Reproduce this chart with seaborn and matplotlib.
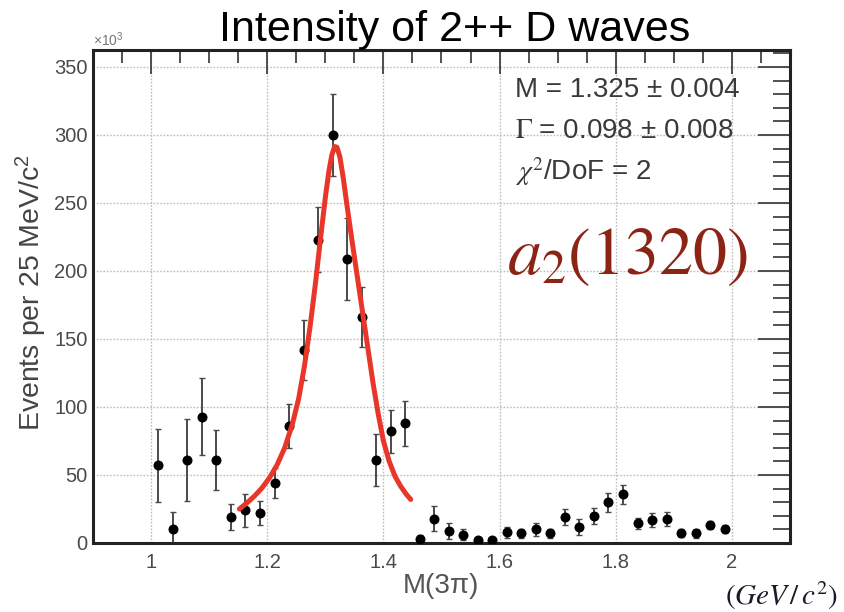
import matplotlib
matplotlib.use("Agg")
import matplotlib.pyplot as plt
from matplotlib.ticker import MultipleLocator
import seaborn as sns
import pandas as pd

# ---- data ----
mass = [1.0125, 1.0375, 1.0625, 1.0875, 1.1125, 1.1375, 1.1625, 1.1875, 1.2125, 1.2375,
        1.2625, 1.2875, 1.3125, 1.3375, 1.3625, 1.3875, 1.4125, 1.4375, 1.4625, 1.4875,
        1.5125, 1.5375, 1.5625, 1.5875, 1.6125, 1.6375, 1.6625, 1.6875, 1.7125, 1.7375,
        1.7625, 1.7875, 1.8125, 1.8375, 1.8625, 1.8875, 1.9125, 1.9375, 1.9625, 1.9875]
events = [57, 10, 61, 93, 61, 19, 24, 22, 44, 86,
          142, 223, 300, 209, 166, 61, 82, 88, 3, 18,
          9, 6, 2, 2, 8, 7, 10, 7, 19, 12,
          20, 30, 36, 14.5, 17, 17.5, 7.5, 7, 13.5, 10]
errors = [27, 13, 30, 28, 22, 9.5, 12, 9, 11, 16,
          22, 24, 30, 30, 22, 19, 16, 16.5, 3, 9.5,
          6, 4, 2, 2, 4, 3, 5, 3, 6, 6,
          6, 7, 7, 4, 5, 5, 3, 3, 3, 3]

fit_mass = [1.152, 1.165, 1.178, 1.191, 1.204, 1.217, 1.230, 1.243, 1.254, 1.264,
            1.274, 1.283, 1.292, 1.300, 1.306, 1.311, 1.316, 1.320, 1.325, 1.331,
            1.338, 1.346, 1.355, 1.364, 1.373, 1.382, 1.391, 1.400, 1.410, 1.420,
            1.430, 1.440, 1.447]
fit_events = [25, 29.5, 34.5, 40.5, 48, 57.5, 70, 87, 106, 130,
              160, 191, 225, 254, 273, 285, 291.5, 291, 284, 268,
              246, 222, 196, 170, 144, 118, 95, 75, 60, 49,
              41.5, 35.5, 32]

x_ticks = [1.0, 1.2, 1.4, 1.6, 1.8, 2.0]
x_tick_labels = ["1", "1.2", "1.4", "1.6", "1.8", "2"]
y_ticks = [0, 50, 100, 150, 200, 250, 300, 350]

title = "Intensity of 2++ D waves"
stats_lines = ["M = 1.325 ± 0.004",
               r"$\Gamma$ = 0.098 ± 0.008",
               r"$\chi^2$/DoF = 2"]

df = pd.DataFrame({"mass": mass, "events": events, "err": errors})
fit = pd.DataFrame({"mass": fit_mass, "events": fit_events})

sns.set_theme(style="white")
plt.rcParams["font.family"] = ["Liberation Sans", "DejaVu Sans"]
plt.rcParams["mathtext.fontset"] = "custom"
plt.rcParams["mathtext.rm"] = "Liberation Sans"
plt.rcParams["mathtext.it"] = "Liberation Sans:italic"

fig = plt.figure(figsize=(8.44, 6.12), dpi=100)
ax = fig.add_axes([93 / 844, 1 - 543 / 612, (790 - 93) / 844, (543 - 50) / 612])

grey_txt = "#4a4a4a"

# grid
for xv in x_ticks:
    ax.axvline(xv, color="#bdbdbd", lw=1.0, ls=(0, (1.2, 1.2)), zorder=0)
for yv in y_ticks[1:]:
    ax.axhline(yv, color="#bdbdbd", lw=1.0, ls=(0, (1.2, 1.2)), zorder=0)

ax.errorbar(df["mass"], df["events"], yerr=df["err"], fmt="none",
            ecolor="#4a4a4a", elinewidth=1.4, capsize=2.2, capthick=1.0, zorder=2)
sns.scatterplot(data=df, x="mass", y="events", ax=ax, color="black", s=52,
                edgecolor="black", linewidth=0, zorder=3, legend=False)
sns.lineplot(data=fit, x="mass", y="events", ax=ax, color="#e8372a", lw=3.6,
             sort=False, estimator=None, zorder=4, legend=False)

ax.set_xlim(0.9, 2.1)
ax.set_ylim(0, 362.5)
ax.set_xticks(x_ticks)
ax.set_xticklabels(x_tick_labels)
ax.set_yticks(y_ticks)
ax.xaxis.set_minor_locator(MultipleLocator(0.05))
ax.yaxis.set_minor_locator(MultipleLocator(10))
ax.tick_params(axis="both", which="both", direction="in", top=True, right=True,
               color="#333333", width=1.2, labelsize=14.5, labelcolor=grey_txt)
ax.tick_params(axis="x", which="major", length=17, pad=7)
ax.tick_params(axis="x", which="minor", length=9)
ax.tick_params(axis="y", which="major", length=23, pad=4)
ax.tick_params(axis="y", which="minor", length=12)
for sp in ax.spines.values():
    sp.set_visible(True)
    sp.set_color("#222222")
    sp.set_linewidth(2.2)

ax.set_xlabel("")
ax.set_ylabel("")

# texts
fig.text(455 / 844, 1 - 30 / 612, title, ha="center", va="center", fontsize=31, color="black")
fig.text(93 / 844, 1 - 40 / 612, r"$\times$10$^{3}$", ha="left", va="center", fontsize=10,
         color="#777777")
fig.text(31 / 844, 1 - 293 / 612, r"Events per 25 MeV/c$^{2}$", rotation=90, ha="center",
         va="center", fontsize=20.5, color="#444444")
fig.text(441 / 844, 1 - 586 / 612, "M(3π)", ha="center", va="center", fontsize=20,
         color="#555555")
fig.text(782 / 844, 1 - 596 / 612, r"$(GeV\,/\,c^2)$", ha="center", va="center",
         fontsize=21, color="#1a1a2a", math_fontfamily="stix")
for i, line in enumerate(stats_lines):
    fig.text(515 / 844, 1 - (90 + 41 * i) / 612, line, ha="left", va="center",
             fontsize=20, color="#3a3a3a", math_fontfamily="stix")
fig.text(627 / 844, 1 - 256 / 612, r"$a_2(\mathrm{1320})$", ha="center", va="center",
         fontsize=49, color="#8c2416", math_fontfamily="stix")

fig.savefig("out.png", dpi=100)
